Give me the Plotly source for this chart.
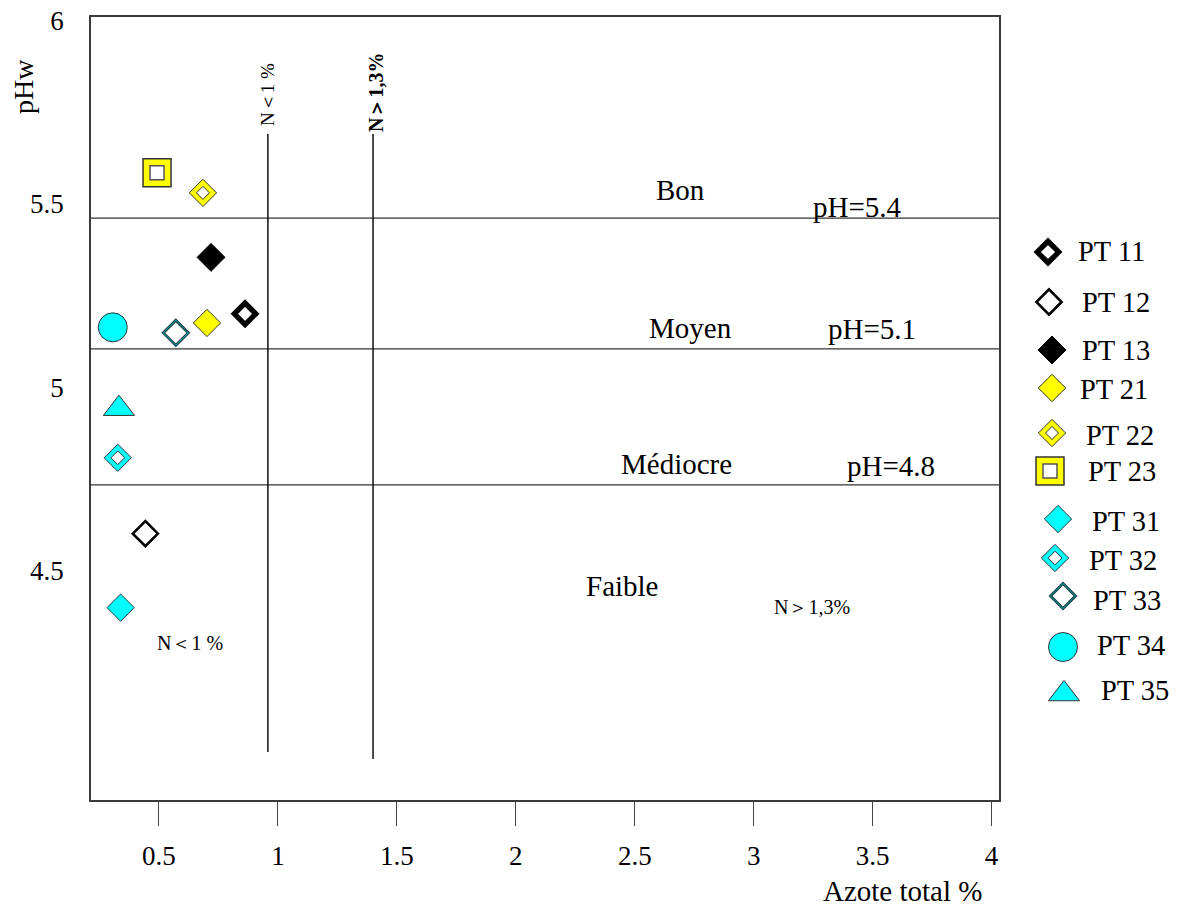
import plotly.graph_objects as go

# ---------------- data ----------------
names = ["PT 11", "PT 12", "PT 13", "PT 21", "PT 22", "PT 23",
         "PT 31", "PT 32", "PT 33", "PT 34", "PT 35"]
azote = [0.862, 0.443, 0.719, 0.702, 0.685, 0.492,
         0.339, 0.327, 0.571, 0.306, 0.332]
ph = [5.200, 4.600, 5.354, 5.175, 5.530, 5.585,
      4.398, 4.807, 5.148, 5.163, 4.941]

# threshold lines (positions)
ph_lines = [5.461, 5.104, 4.733]
n_lines = [0.958, 1.400]
n_line_tops = [5.691, 5.691]
n_line_bottoms = [4.004, 3.985]

x_ticks = [0.5, 1, 1.5, 2, 2.5, 3, 3.5, 4]
x_tick_text = ["0.5", "1", "1.5", "2", "2.5", "3", "3.5", "4"]
y_ticks = [4.5, 5, 5.5, 6]
y_tick_text = ["4.5", "5", "5.5", "6"]

# ---------------- layout / styles ----------------
W, H = 1178, 908          # window
OFF = 8                   # page body margin
FW, FH = W - OFF, H - OFF # figure size
L, R, T, B = 91, 999, 17, 800     # plot frame in window pixels
XR = [0.2145, 4.031]
YR = [3.873, 6.010]
FONT = "Liberation Serif"
YEL = "#FFFF00"
CYA = "#00FFFF"
DK = "#333333"

def layer(symbol, size, fill, lc, lw):
    return dict(symbol=symbol, size=size, color=fill, line=dict(color=lc, width=lw))

styles = {
    "PT 11": [layer("diamond", 16.5, "white", "black", 5.3)],
    "PT 12": [layer("diamond", 19.3, "white", "black", 2.6)],
    "PT 13": [layer("diamond", 21.5, "black", "black", 1)],
    "PT 21": [layer("diamond", 21, YEL, DK, 1)],
    "PT 22": [layer("diamond", 21, YEL, DK, 1), layer("diamond", 10, "white", DK, 1)],
    "PT 23": [layer("square", 28, YEL, DK, 1.5), layer("square", 14, "white", "#555555", 1.5)],
    "PT 31": [layer("diamond", 21, CYA, DK, 1)],
    "PT 32": [layer("diamond", 21, CYA, DK, 1), layer("diamond", 10.5, "white", DK, 1)],
    "PT 33": [layer("diamond", 21, CYA, "#1a3a3a", 1.2), layer("diamond", 17.5, "white", "#1a3a3a", 1.2)],
    "PT 34": [layer("circle", 29, CYA, DK, 1)],
    "PT 35": [layer("triangle-up", 27, CYA, DK, 1)],
}

# custom legend placement (window pixels)
LEG_X0 = 1015
leg_marker = [(1048, 252), (1049, 302), (1052, 350), (1052, 388), (1052, 433), (1050, 471),
              (1058, 519), (1055, 558), (1063, 596), (1063, 647), (1064, 694)]
leg_text = [(1076, 251), (1080, 302), (1080, 350), (1078, 390), (1084, 435), (1086, 471),
            (1090, 521), (1087, 560), (1091, 600), (1095, 645), (1099, 690)]

def px(x):
    return (x - OFF) / FW

def py(y):
    return 1 - (y - OFF) / FH

fig = go.Figure()

# threshold lines
for v in ph_lines:
    fig.add_trace(go.Scatter(x=XR, y=[v, v], mode="lines",
                             line=dict(color=DK, width=1.3), hoverinfo="skip", showlegend=False))
for xv, y0, y1 in zip(n_lines, n_line_tops, n_line_bottoms):
    fig.add_trace(go.Scatter(x=[xv, xv], y=[y0, y1], mode="lines",
                             line=dict(color="#111111", width=1.5), hoverinfo="skip", showlegend=False))

# data points
for i, n in enumerate(names):
    for lay in styles[n]:
        fig.add_trace(go.Scatter(x=[azote[i]], y=[ph[i]], mode="markers", name=n,
                                 marker=lay, showlegend=False))

# custom legend in its own hidden subplot
for i, n in enumerate(names):
    mx, my = leg_marker[i]
    for lay in styles[n]:
        fig.add_trace(go.Scatter(x=[mx], y=[my], mode="markers", marker=lay,
                                 xaxis="x2", yaxis="y2", cliponaxis=False,
                                 hoverinfo="skip", showlegend=False))
    tx, ty = leg_text[i]
    fig.add_annotation(text=n, x=px(tx), y=py(ty), xref="paper", yref="paper",
                       xanchor="left", yanchor="middle", showarrow=False,
                       font=dict(family=FONT, size=28.5, color="black"))

# text annotations (text, x, y, size, angle)
texts = [
    ("Bon", 680, 190, 29, 0), ("pH=5.4", 857, 207, 29, 0),
    ("Moyen", 690, 328, 29, 0), ("pH=5.1", 872, 329, 29, 0),
    ("Médiocre", 676, 464, 29, 0), ("pH=4.8", 891, 466, 29, 0),
    ("Faible", 622, 586, 29, 0),
    ("N＞1,3%", 812, 607, 20, 0), ("N＜1 %", 190, 643, 20, 0),
    ("N＜1 %", 267, 95, 19, -90), ("<b>N＞1,3%</b>", 376, 93, 20, -90),
    ("pHw", 24, 87, 28, -90), ("Azote total %", 903, 891, 29, 0),
]
for t, x, y, s, a in texts:
    fig.add_annotation(text=t, x=px(x), y=py(y), xref="paper", yref="paper",
                       xanchor="center", yanchor="middle", textangle=a, showarrow=False,
                       font=dict(family=FONT, size=s, color="black"))

fig.update_layout(
    width=FW, height=FH,
    margin=dict(l=0, r=0, t=0, b=0, autoexpand=False),
    paper_bgcolor="white", plot_bgcolor="white",
    showlegend=False,
    xaxis=dict(domain=[px(L), px(R)], anchor="y", range=XR,
               tickvals=x_ticks, ticktext=x_tick_text,
               ticks="outside", ticklen=24, tickcolor="#444444", tickwidth=1,
               ticklabelstandoff=7, ticklabeloverflow="allow",
               tickfont=dict(family=FONT, size=27, color="black"),
               showgrid=False, zeroline=False,
               showline=True, linecolor="#3a3a3a", linewidth=1.5, mirror=True),
    yaxis=dict(domain=[py(B), py(T)], anchor="x", range=YR,
               tickvals=y_ticks, ticktext=y_tick_text,
               ticks="", ticklabelstandoff=20, ticklabeloverflow="allow",
               tickfont=dict(family=FONT, size=27, color="black"),
               showgrid=False, zeroline=False,
               showline=True, linecolor="#3a3a3a", linewidth=1.5, mirror=True),
    xaxis2=dict(domain=[px(LEG_X0), 1], anchor="y2", range=[LEG_X0, W],
                visible=False, fixedrange=True),
    yaxis2=dict(domain=[0, 1], anchor="x2", range=[H, OFF],
                visible=False, fixedrange=True),
)

fig.write_html("out.html")
